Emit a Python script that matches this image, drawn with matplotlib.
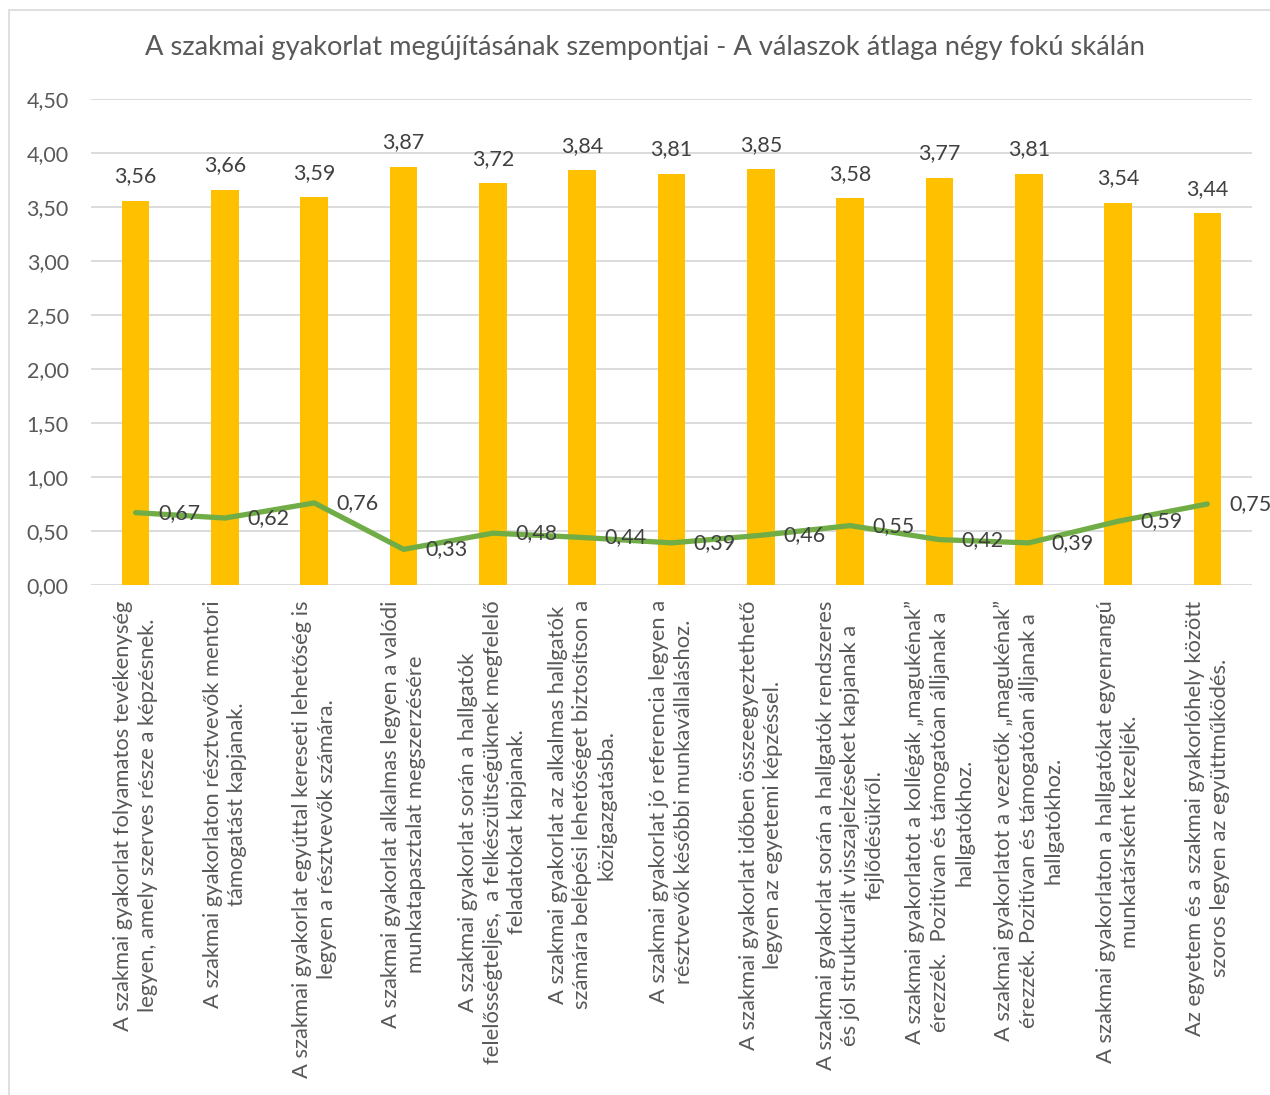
import matplotlib.pyplot as plt
from matplotlib.patches import Rectangle
from matplotlib.ticker import FuncFormatter, MultipleLocator

plt.rcParams['font.family'] = ['Lato', 'DejaVu Sans']

categories = [
    "A szakmai gyakorlat folyamatos tevékenység\nlegyen, amely szerves része a képzésnek.",
    "A szakmai gyakorlaton résztvevők mentori\ntámogatást kapjanak.",
    "A szakmai gyakorlat egyúttal kereseti lehetőség is\nlegyen a résztvevők számára.",
    "A szakmai gyakorlat alkalmas legyen a valódi\nmunkatapasztalat megszerzésére",
    "A szakmai gyakorlat során a hallgatók\nfelelősségteljes,  a felkészültségüknek megfelelő\nfeladatokat kapjanak.",
    "A szakmai gyakorlat az alkalmas hallgatók\nszámára belépési lehetőséget biztosítson a\nközigazgatásba.",
    "A szakmai gyakorlat jó referencia legyen a\nrésztvevők későbbi munkavállaláshoz.",
    "A szakmai gyakorlat időben összeegyeztethető\nlegyen az egyetemi képzéssel.",
    "A szakmai gyakorlat során a hallgatók rendszeres\nés jól strukturált visszajelzéseket kapjanak a\nfejlődésükről.",
    "A szakmai gyakorlatot a kollégák „magukénak”\nérezzék.  Pozitívan és támogatóan álljanak a\nhallgatókhoz.",
    "A szakmai gyakorlatot a vezetők „magukénak”\nérezzék. Pozitívan és támogatóan álljanak a\nhallgatókhoz.",
    "A szakmai gyakorlaton a hallgatókat egyenrangú\nmunkatársként kezeljék.",
    "Az egyetem és a szakmai gyakorlóhely között\nszoros legyen az együttműködés.",
]
means = [3.56, 3.66, 3.59, 3.87, 3.72, 3.84, 3.81, 3.85, 3.58, 3.77, 3.81, 3.54, 3.44]
spread = [0.67, 0.62, 0.76, 0.33, 0.48, 0.44, 0.39, 0.46, 0.55, 0.42, 0.39, 0.59, 0.75]

title = "A szakmai gyakorlat megújításának szempontjai - A válaszok átlaga négy fokú skálán"

TEXT = '#595959'
LABEL = '#404040'


def hu(v):
    return f"{v:.2f}".replace('.', ',')


fig = plt.figure(figsize=(12.7, 10.95), dpi=100)
# chart frame
fig.patches.append(Rectangle((9 / 1270, -0.1), 1.2, 1.1 - 10 / 1095,
                             transform=fig.transFigure, fill=False,
                             edgecolor='#d9d9d9', linewidth=1.2))
ax = fig.add_axes([91 / 1270, 1 - 585 / 1095, (1252 - 91) / 1270, (585 - 99) / 1095])

x = list(range(len(categories)))
ax.bar(x, means, width=0.31, color='#FFC000', zorder=2)
ax.plot(x, spread, color='#70AD47', linewidth=3.8, solid_capstyle='round',
        solid_joinstyle='round', zorder=3)

for i, v in enumerate(means):
    ax.annotate(hu(v), (i, v), xytext=(0, 10.5), textcoords='offset points',
                ha='center', va='bottom', fontsize=15.5, color=LABEL)
for i, v in enumerate(spread):
    ax.annotate(hu(v), (i, v), xytext=(16, 0), textcoords='offset points',
                ha='left', va='center', fontsize=15.5, color=LABEL, zorder=4,
                annotation_clip=False)

ax.set_xlim(-0.5, len(categories) - 0.5)
ax.set_ylim(0, 4.5)
ax.yaxis.set_major_locator(MultipleLocator(0.5))
ax.yaxis.set_major_formatter(FuncFormatter(lambda v, p: hu(v)))
ax.grid(axis='y', color='#d9d9d9', linewidth=1.3, zorder=0)
ax.set_axisbelow(True)
for s in ax.spines.values():
    s.set_visible(False)

ax.set_xticks(x)
ax.set_xticklabels(categories, rotation=90, multialignment='center',
                   fontsize=15.8, color=TEXT, linespacing=1.28)
ax.tick_params(axis='x', length=0, pad=11)
ax.tick_params(axis='y', length=0, pad=16, labelsize=15.5, labelcolor=TEXT)

fig.text(645 / 1270, 1 - 48 / 1095, title, ha='center', va='center',
         fontsize=19.6, color=TEXT)

fig.savefig('out.png', dpi=100)
